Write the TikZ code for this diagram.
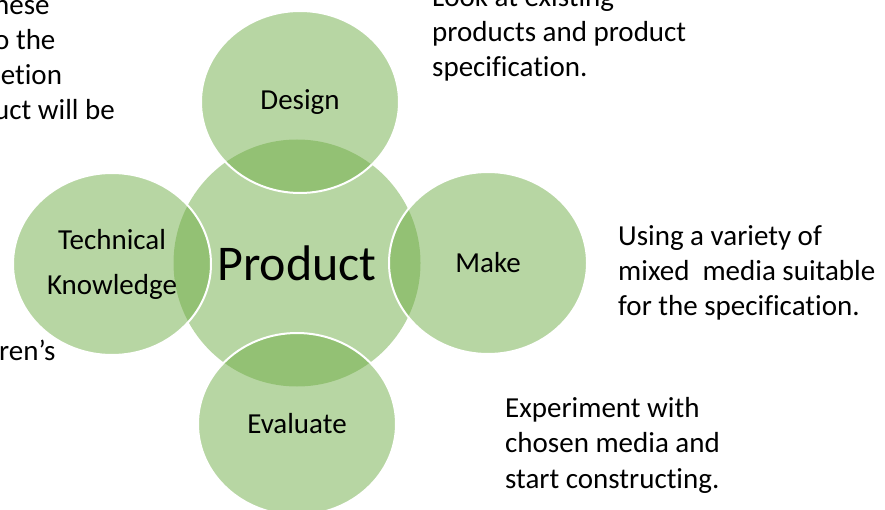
\documentclass[tikz,border=0pt]{standalone}
\usepackage{fontspec}
\setmainfont{Carlito}[Ligatures=NoCommon]
\usepackage{tikz}
\usetikzlibrary{shapes.geometric,positioning}
\definecolor{leaf}{HTML}{70AD47}

\begin{document}
\begin{tikzpicture}[x=1pt,y=-1pt,
  hub/.style={circle,fill=leaf,fill opacity=.5,text opacity=1,minimum size=247pt,inner sep=0pt},
  petal/.style={ellipse,fill=leaf,fill opacity=.5,text opacity=1,draw=white,line width=2pt,
    minimum width=198pt,minimum height=182pt,inner sep=0pt,font=\fontsize{29}{35}\selectfont},
  note/.style={anchor=base west,align=left,inner sep=0pt,font=\fontsize{29}{35.3}\selectfont}]
  \useasboundingbox (0,0) rectangle (885,510);
  \clip (0,0) rectangle (885,510);
  % the centre and the four stages round it
  \node [hub,font=\fontsize{50}{60}\selectfont] (product) at (297,263) {Product};
  \node [petal] (design) at (300,102) {Design};
  \node [petal,align=center,font=\fontsize{29}{45}\selectfont] (tech) at (112,264) {Technical\\Knowledge};
  \node [petal] (make) at (488,263) {Make};
  \node [petal] (evaluate) at (297,424) {Evaluate};
  % notes (anchored at the baseline of their last line)
  \node [note] (these) at (-6,120) {hese\\o the\\letion\\uct will be};
  \node [note] (childrens) at (-1,360) {ren’s};
  \node [note] (look) at (432,77) {Look at existing\\products and product\\specification.};
  \node [note] (using) at (618,316) {Using a variety of\\mixed\ \ media suitable\\for the specification.};
  \node [note] (experiment) at (505,488) {Experiment with\\chosen media and\\start constructing.};
\end{tikzpicture}
\end{document}
